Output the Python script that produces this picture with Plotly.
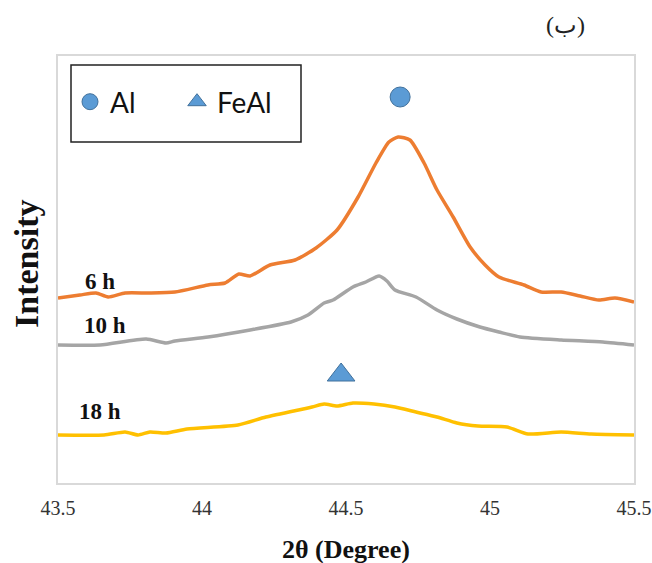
import plotly.graph_objects as go

# 2θ (degree) and intensity (arbitrary units)
x_6h = [43.5, 43.576, 43.632, 43.674, 43.733, 43.819, 43.906, 44.021, 44.080, 44.128, 44.167,
        44.236, 44.323, 44.396, 44.469, 44.542, 44.604, 44.649, 44.681, 44.722, 44.771, 44.816,
        44.872, 44.931, 44.983, 45.031, 45.118, 45.177, 45.247, 45.313, 45.378, 45.434, 45.5]
y_6h = [189, 192, 194, 190, 194, 194, 195, 202, 204, 213, 211, 222, 227, 239, 257, 290, 324,
        345, 350, 347, 324, 297, 270, 240, 222, 210, 202, 195, 195, 191, 187, 189, 185]

x_10h = [43.5, 43.646, 43.806, 43.875, 43.906, 44.021, 44.167, 44.309, 44.368, 44.424, 44.455,
         44.524, 44.569, 44.615, 44.642, 44.670, 44.743, 44.816, 44.885, 44.965, 45.031, 45.104,
         45.247, 45.392, 45.5]
y_10h = [142, 142, 148, 144, 146, 150, 157, 165, 172, 184, 187, 200, 205, 211, 206, 197, 190,
         177, 168, 160, 155, 150, 147, 145, 142]

x_18h = [43.5, 43.660, 43.733, 43.778, 43.819, 43.875, 43.948, 44.125, 44.222, 44.382, 44.424,
         44.469, 44.524, 44.597, 44.670, 44.743, 44.816, 44.885, 44.958, 45.059, 45.132, 45.247,
         45.351, 45.5]
y_18h = [52, 52, 55, 52, 55, 54, 58, 62, 70, 80, 83, 81, 84, 83, 80, 75, 70, 64, 61, 60, 53, 55,
         53, 52]

series_names = ["6 h", "10 h", "18 h"]
series_colors = ["#ED7D31", "#A5A5A5", "#FFC000"]
label_pos = [(43.646, 206), (43.663, 162), (43.646, 76)]

al_x, al_y = [44.688], [390]
feal_x, feal_y = [44.483], [112]

x_ticks = [43.5, 44, 44.5, 45, 45.5]
x_tick_text = ["43.5", "44", "44.5", "45", "45.5"]

SERIF = "Liberation Serif, Times New Roman, serif"

fig = go.Figure()
for xs, ys, c in zip([x_6h, x_10h, x_18h], [y_6h, y_10h, y_18h], series_colors):
    fig.add_trace(go.Scatter(x=xs, y=ys, mode="lines", showlegend=False,
                             line=dict(color=c, width=3.5, shape="spline", smoothing=0.6)))

fig.add_trace(go.Scatter(x=al_x, y=al_y, mode="markers", name="Al",
                         marker=dict(symbol="circle", size=20, color="#5B9BD5",
                                     line=dict(color="#41719C", width=1))))
fig.add_trace(go.Scatter(x=feal_x, y=feal_y, mode="markers", name="FeAl",
                         marker=dict(symbol="triangle-up", size=24, color="#5B9BD5",
                                     line=dict(color="#41719C", width=1))))

for name, (lx, ly) in zip(series_names, label_pos):
    fig.add_annotation(x=lx, y=ly, text="<b>" + name + "</b>", showarrow=False,
                       font=dict(family=SERIF, size=23, color="#111"),
                       xanchor="center", yanchor="middle")

# plot frame: left 58, right 634, top 56, bottom 483 (pixels)
PW, PH = 576, 427
Y0 = 483

def py(p):
    return (Y0 - p) / PH

def px(p):
    return (p - 58) / PW

# Legend box
fig.add_shape(type="rect", xref="paper", yref="paper",
              x0=px(71), x1=px(301), y0=py(142), y1=py(65),
              line=dict(color="#222", width=1.5), fillcolor="rgba(0,0,0,0)")

fig.add_annotation(xref="paper", yref="paper", x=0.5, y=py(549),
                   text="<b>2θ (Degree)</b>", showarrow=False,
                   font=dict(family=SERIF, size=26, color="#111"),
                   xanchor="center", yanchor="middle")
fig.add_annotation(xref="paper", yref="paper", x=px(26), y=py(264),
                   text="<b>Intensity</b>", showarrow=False, textangle=-90,
                   font=dict(family=SERIF, size=34, color="#111"),
                   xanchor="center", yanchor="middle")
fig.add_annotation(xref="paper", yref="paper", x=px(565), y=py(25),
                   text="(ب)", showarrow=False,
                   font=dict(family=SERIF, size=24, color="#222"),
                   xanchor="center", yanchor="middle")

fig.update_layout(
    width=652, height=563,
    margin=dict(l=58, r=18, t=56, b=80),
    paper_bgcolor="white", plot_bgcolor="white",
    showlegend=True,
    legend=dict(orientation="h", x=px(70), y=py(102),
                xanchor="left", yanchor="middle", entrywidth=62,
                font=dict(family="Lato", size=28, color="#111"),
                bgcolor="rgba(0,0,0,0)", borderwidth=0, itemsizing="trace"),
    xaxis=dict(range=[43.5, 45.5], tickvals=x_ticks, ticktext=x_tick_text,
               showgrid=False, zeroline=False, showline=True, linecolor="#D9D9D9",
               linewidth=1.5, mirror=True, ticks="", ticklabelstandoff=6, automargin=False,
               tickfont=dict(family=SERIF, size=20, color="#333")),
    yaxis=dict(range=[4, 431], showticklabels=False, showgrid=False, zeroline=False,
               showline=True, linecolor="#D9D9D9", linewidth=1.5, mirror=True, ticks="",
               automargin=False),
)

fig.write_html("out.html")
